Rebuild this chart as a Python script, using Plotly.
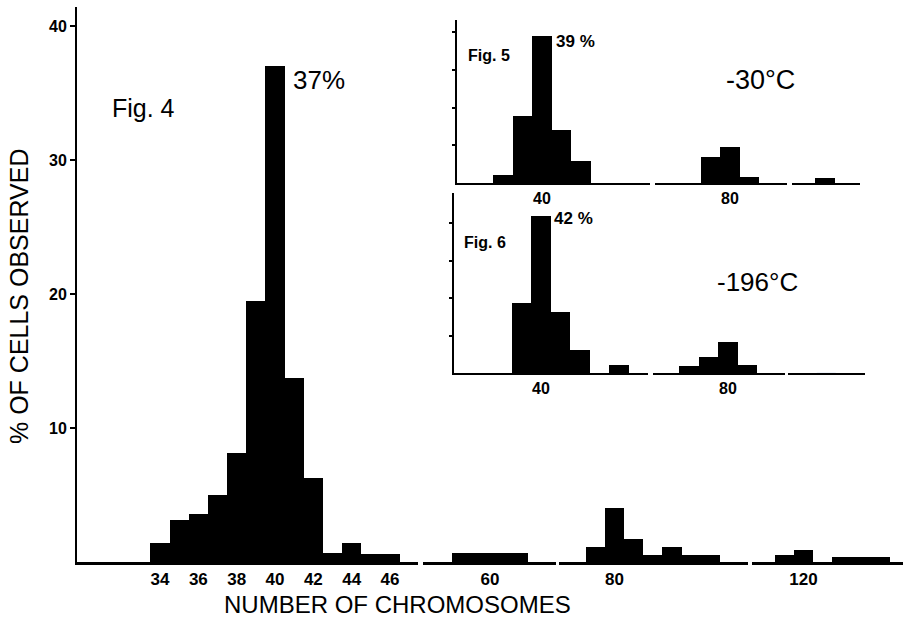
import plotly.graph_objects as go

W, H = 903, 623

# ---------------- data ----------------
# Fig. 4 (main) — percent of cells observed vs number of chromosomes
main_seg1_x = [34, 35, 36, 37, 38, 39, 40, 41, 42, 43, 44, 45, 46]
main_seg1_y = [1.4, 3.1, 3.6, 5.0, 8.1, 19.5, 37.0, 13.7, 6.3, 0.7, 1.4, 0.6, 0.6]
main_seg2_x = [59, 61]
main_seg2_w = [2, 2]
main_seg2_y = [0.7, 0.65]
main_seg3_x = [79, 80, 81, 82, 83, 84, 85]
main_seg3_y = [1.1, 4.0, 1.7, 0.5, 1.1, 0.5, 0.5]
main_seg4_x = [119, 120, 121, 122, 123, 124]
main_seg4_y = [0.5, 0.9, 0.0, 0.4, 0.4, 0.4]

# Fig. 5 (-30 °C)
f5_seg1_x = [38, 39, 40, 41, 42]
f5_seg1_y = [2.1, 17.8, 39.0, 14.0, 5.8]
f5_seg2_x = [79, 80, 81]
f5_seg2_y = [6.9, 9.5, 1.6]
f5_seg3_x = [120]
f5_seg3_y = [1.3]

# Fig. 6 (-196 °C)
f6_seg1_x = [39, 40, 41, 42, 43, 44]
f6_seg1_y = [18.7, 42.0, 16.3, 6.1, 0.0, 2.1]
f6_seg2_x = [78, 79, 80, 81]
f6_seg2_y = [1.9, 4.3, 8.3, 2.1]

main_ticks1 = [34, 36, 38, 40, 42, 44, 46]
main_ticks2 = [60]
main_ticks3 = [80]
main_ticks4 = [120]
y_ticks_main = [10, 20, 30, 40]
y_ticks_inset = [10, 20, 30, 40]

FONT = "Liberation Sans, Arial, sans-serif"

def px_x(a, b):
    return [a / W, b / W]

def px_y(top, bottom):
    return [1 - bottom / H, 1 - top / H]

fig = go.Figure()

def add_bars(x, y, xa, ya, width=None):
    fig.add_trace(go.Bar(x=x, y=y, width=width if width is not None else [1] * len(x),
                         marker=dict(color="black", line=dict(width=0)),
                         xaxis=xa, yaxis=ya, showlegend=False, hoverinfo="x+y"))

add_bars(main_seg1_x, main_seg1_y, "x", "y")
add_bars(main_seg2_x, main_seg2_y, "x2", "y", main_seg2_w)
add_bars(main_seg3_x, main_seg3_y, "x3", "y")
add_bars(main_seg4_x, main_seg4_y, "x4", "y")
add_bars(f5_seg1_x, f5_seg1_y, "x5", "y2")
add_bars(f5_seg2_x, f5_seg2_y, "x6", "y2")
add_bars(f5_seg3_x, f5_seg3_y, "x7", "y2")
add_bars(f6_seg1_x, f6_seg1_y, "x8", "y3")
add_bars(f6_seg2_x, f6_seg2_y, "x9", "y3")
# empty third segment of Fig. 6 (axis line only)
fig.add_trace(go.Bar(x=[120], y=[0], width=[1], marker=dict(color="black"),
                     xaxis="x10", yaxis="y3", showlegend=False, hoverinfo="skip"))

def xax(domain, rng, anchor, ticks, lw=2.5, fs=17):
    return dict(domain=domain, range=rng, anchor=anchor, showline=True,
                linecolor="black", linewidth=lw, showgrid=False, zeroline=False,
                ticks="", tickvals=ticks, ticktext=[str(t) for t in ticks],
                ticklabelstandoff=0,
                tickfont=dict(family=FONT, size=fs, color="black", weight="bold"),
                fixedrange=True)

def yax(domain, rng, anchor, ticks, labels, lw=2, tl=5):
    return dict(domain=domain, range=rng, anchor=anchor, showline=True,
                linecolor="black", linewidth=lw, showgrid=False, zeroline=False,
                ticks="outside", ticklen=tl, tickwidth=1.5, tickcolor="black",
                tickvals=ticks, showticklabels=labels,
                tickfont=dict(family=FONT, size=16, color="black", weight="bold"),
                fixedrange=True)

u = 19.17  # main px per chromosome
main_ydom = px_y(7, 562)
f5_ydom = px_y(20, 183)
f6_ydom = px_y(193, 373)

layout = dict(
    width=W, height=H, margin=dict(l=0, r=0, t=0, b=0),
    paper_bgcolor="white", plot_bgcolor="rgba(0,0,0,0)",
    bargap=0, barmode="overlay", showlegend=False,
    font=dict(family=FONT, color="black"),
    xaxis=xax(px_x(77, 418), [34 - 83 / u, 34 + 258 / u], "y", main_ticks1),
    xaxis2=xax(px_x(423, 556), [60 - 67 / u, 60 + 66 / u], "y", main_ticks2),
    xaxis3=xax(px_x(559, 748), [80 - 55.5 / u, 80 + 133.5 / u], "y", main_ticks3),
    xaxis4=xax(px_x(752, 903), [120 - 51.5 / u, 120 + 99.5 / u], "y", main_ticks4),
    yaxis=yax(main_ydom, [0, 555 / 13.4], "x", y_ticks_main, True),
    xaxis5=xax(px_x(457, 650), [40 - 85 / 19.5, 40 + 108 / 19.5], "y2", [40], 2, 16),
    xaxis6=xax(px_x(655, 787), [80 - 75 / 19.5, 80 + 57 / 19.5], "y2", [80], 2, 16),
    xaxis7=xax(px_x(792, 860), [120 - 33 / 19.5, 120 + 35 / 19.5], "y2", [], 2, 16),
    yaxis2=yax(f5_ydom, [0, 163 / 3.77], "x5", y_ticks_inset, False, 1.5, 3),
    xaxis8=xax(px_x(454, 648), [40 - 87 / 19.5, 40 + 107 / 19.5], "y3", [40], 2, 16),
    xaxis9=xax(px_x(653, 785), [80 - 75 / 19.5, 80 + 57 / 19.5], "y3", [80], 2, 16),
    xaxis10=xax(px_x(788, 865), [118, 122], "y3", [], 2, 16),
    yaxis3=yax(f6_ydom, [0, 180 / 3.75], "x8", y_ticks_inset, False, 1.5, 3),
)
fig.update_layout(**layout)

def ann(text, x, y, size, angle=0, xanchor="center"):
    fig.add_annotation(text=text, x=x / W, y=1 - y / H, xref="paper", yref="paper",
                       showarrow=False, textangle=angle, xanchor=xanchor, yanchor="middle",
                       font=dict(family=FONT, size=size, color="black"))

ann("Fig. 4", 110, 108, 25, xanchor="left")
ann("37%", 291, 80, 26, xanchor="left")
ann("% OF CELLS OBSERVED", 19, 297, 25, angle=-90)
ann("NUMBER OF CHROMOSOMES", 397, 604, 24)
ann("<b>Fig. 5</b>", 466, 55, 16, xanchor="left")
ann("<b>39 %</b>", 554, 42, 17, xanchor="left")
ann("-30°C", 760, 80, 27)
ann("<b>Fig. 6</b>", 462, 242, 16, xanchor="left")
ann("<b>42 %</b>", 552, 218, 17, xanchor="left")
ann("-196°C", 757, 282, 26)

fig.write_html("out.html", config={"displayModeBar": False},
               post_script="document.body.style.margin='0';document.body.style.overflow='hidden';")
